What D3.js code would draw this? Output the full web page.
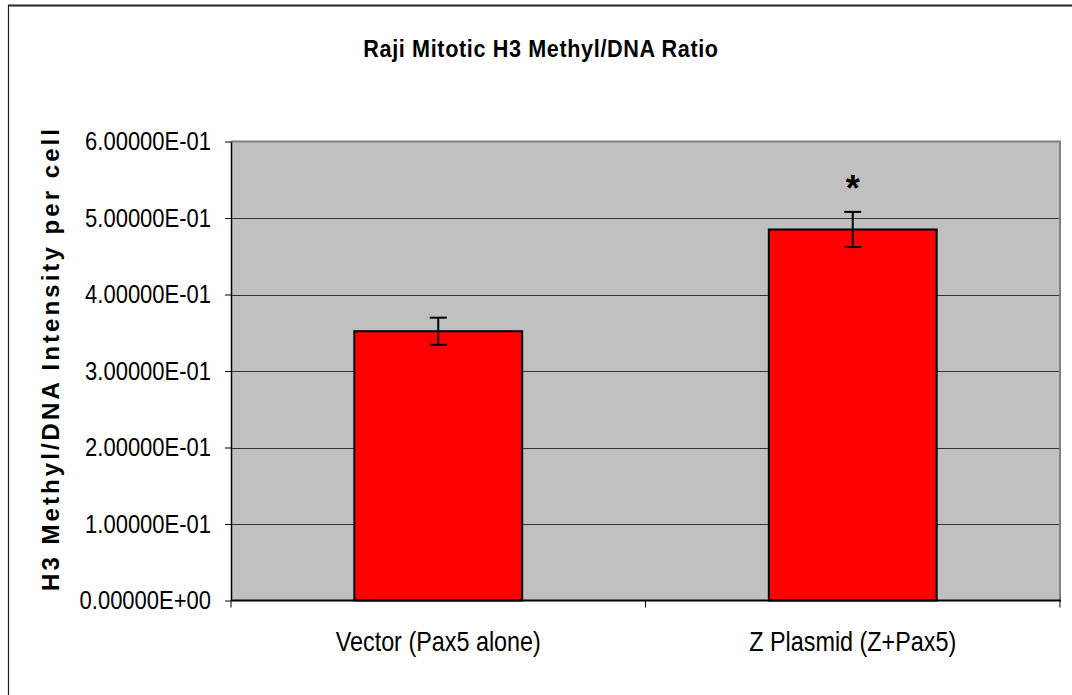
<!DOCTYPE html>
<html>
<head>
<meta charset="utf-8">
<script src="https://cdn.jsdelivr.net/npm/d3@7"></script>
<style>
  html, body { margin: 0; padding: 0; background: #fff; }
  svg { display: block; }
  text { font-family: "Liberation Sans", Arial, sans-serif; fill: #000; }
</style>
</head>
<body>
<svg id="chart" width="1072" height="695"></svg>
<script>
// ---- data ----
const categories = ["Vector (Pax5 alone)", "Z Plasmid (Z+Pax5)"];
const values = [0.352, 0.485];
const errors = [0.0177, 0.023];
const markers = ["", "*"];
const yTickValues = [0, 0.1, 0.2, 0.3, 0.4, 0.5, 0.6];
const yTickLabels = ["0.00000E+00", "1.00000E-01", "2.00000E-01", "3.00000E-01",
                     "4.00000E-01", "5.00000E-01", "6.00000E-01"];
const chartTitle = "Raji Mitotic H3 Methyl/DNA Ratio";
const yAxisTitle = "H3 Methyl/DNA Intensity per cell";

// ---- layout ----
const W = 1072, H = 695;
const plot = { left: 231, right: 1060, top: 141.5, bottom: 600.5 };
const svg = d3.select("#chart");

// outer frame (only top and left visible)
svg.append("line").attr("x1", 8).attr("x2", W).attr("y1", 5.5).attr("y2", 5.5)
  .attr("stroke", "#222").attr("stroke-width", 2);
svg.append("line").attr("x1", 8.5).attr("x2", 8.5).attr("y1", 5).attr("y2", H)
  .attr("stroke", "#222").attr("stroke-width", 1.2);

const y = d3.scaleLinear().domain([0, 0.6]).range([plot.bottom, plot.top]);
const x = d3.scaleBand().domain(categories).range([plot.left, plot.right])
  .paddingInner(0.595).paddingOuter(0.2975);

// plot background
svg.append("rect").attr("x", plot.left).attr("y", plot.top)
  .attr("width", plot.right - plot.left).attr("height", plot.bottom - plot.top)
  .attr("fill", "#C0C0C0");

// gridlines
svg.append("g").selectAll("line")
  .data(yTickValues.filter(v => v > 0 && v < 0.6))
  .join("line")
  .attr("x1", plot.left).attr("x2", plot.right)
  .attr("y1", d => Math.round(y(d)) + 0.5).attr("y2", d => Math.round(y(d)) + 0.5)
  .attr("stroke", "#333").attr("stroke-width", 1);

// plot border top & right (grey)
svg.append("path")
  .attr("d", `M${plot.left},${plot.top}H${plot.right}V${plot.bottom}`)
  .attr("fill", "none").attr("stroke", "#808080").attr("stroke-width", 2);

// bars
svg.append("g").selectAll("rect")
  .data(categories)
  .join("rect")
  .attr("x", d => x(d))
  .attr("y", (d, i) => y(values[i]))
  .attr("width", x.bandwidth())
  .attr("height", (d, i) => y(0) - y(values[i]))
  .attr("fill", "#FF0000")
  .attr("stroke", "#000").attr("stroke-width", 2);

// error bars
const eg = svg.append("g").attr("stroke", "#000").attr("stroke-width", 2);
categories.forEach((c, i) => {
  const cx = x(c) + x.bandwidth() / 2;
  const hi = y(values[i] + errors[i]), lo = y(values[i] - errors[i]);
  eg.append("line").attr("x1", cx).attr("x2", cx).attr("y1", hi).attr("y2", lo);
  eg.append("line").attr("x1", cx - 8.5).attr("x2", cx + 8.5).attr("y1", hi).attr("y2", hi);
  eg.append("line").attr("x1", cx - 8.5).attr("x2", cx + 8.5).attr("y1", lo).attr("y2", lo);
});

// significance markers
svg.append("g").selectAll("text")
  .data(categories)
  .join("text")
  .attr("x", (d) => x(d) + x.bandwidth() / 2)
  .attr("y", (d, i) => y(values[i] + errors[i]) - 11)
  .attr("text-anchor", "middle")
  .style("font-size", "36px").style("font-weight", "bold")
  .text((d, i) => markers[i]);

// y axis
const yAxis = svg.append("g").attr("transform", `translate(${plot.left},0)`)
  .call(d3.axisLeft(y).tickValues(yTickValues)
    .tickFormat((d, i) => yTickLabels[i]).tickSize(6).tickSizeOuter(0).tickPadding(16));
yAxis.select(".domain").attr("stroke", "#000").attr("stroke-width", 1.5);
yAxis.selectAll(".tick line").attr("stroke", "#000").attr("stroke-width", 1);
yAxis.selectAll(".tick text")
  .style("font-size", "25px").style("font-family", "'Liberation Sans', Arial, sans-serif")
  .attr("fill", "#000")
  .attr("transform", "scale(0.88,1)")
  .attr("x", -20 / 0.88);

// x axis line and boundary ticks
const xa = svg.append("g");
xa.append("line").attr("x1", plot.left).attr("x2", plot.right + 1)
  .attr("y1", plot.bottom).attr("y2", plot.bottom)
  .attr("stroke", "#000").attr("stroke-width", 2);
const boundaries = d3.range(categories.length + 1).map(i => plot.left + i * x.step());
xa.selectAll(".bt").data(boundaries).join("line")
  .attr("x1", d => d).attr("x2", d => d)
  .attr("y1", plot.bottom).attr("y2", plot.bottom + 7)
  .attr("stroke", "#000").attr("stroke-width", 1);

// category labels
xa.selectAll(".cl").data(categories).join("text")
  .attr("transform", d => `translate(${x(d) + x.bandwidth() / 2},651) scale(0.82,1)`)
  .attr("text-anchor", "middle")
  .style("font-size", "28.5px")
  .text(d => d);

// chart title
svg.append("text")
  .attr("transform", "translate(541,57) scale(0.9,1)")
  .attr("text-anchor", "middle")
  .style("font-size", "24px").style("font-weight", "bold")
  .style("letter-spacing", "0.7px")
  .text(chartTitle);

// y axis title
svg.append("text")
  .attr("transform", `translate(59,${(128 + 592) / 2}) rotate(-90)`)
  .attr("text-anchor", "middle")
  .attr("textLength", 462).attr("lengthAdjust", "spacing")
  .style("font-size", "24px").style("font-weight", "bold")
  .text(yAxisTitle);
</script>
</body>
</html>
